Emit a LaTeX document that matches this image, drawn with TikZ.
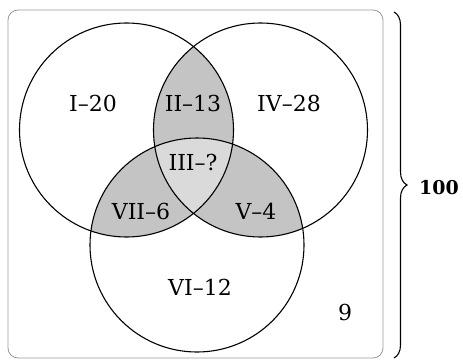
\documentclass[tikz,border=0pt]{standalone}
\usepackage{fontspec}
\setmainfont{DejaVu Serif}
\usetikzlibrary{positioning, decorations.pathreplacing}
\definecolor{pairgray}{RGB}{196,196,196}
\definecolor{triplegray}{RGB}{218,218,218}

\tikzset{
    setcircle/.style={draw, circle, line width=1.1pt, minimum size=214pt, inner sep=0pt},
    regionlabel/.style={font=\fontsize{22}{22}\selectfont, inner sep=1pt},
}

\begin{document}
\begin{tikzpicture}[x=1pt, y=-1pt]
\useasboundingbox (0,0) rectangle (463,361);

% --- shading of the overlaps ---
\begin{scope}
    \clip (126.5,130) circle (107pt);
    \fill [pairgray] (260.5,130) circle (107pt);
    \fill [pairgray] (197,245) circle (107pt);
\end{scope}
\begin{scope}
    \clip (260.5,130) circle (107pt);
    \fill [pairgray] (197,245) circle (107pt);
\end{scope}
\begin{scope}
    \clip (126.5,130) circle (107pt);
    \clip (260.5,130) circle (107pt);
    \fill [triplegray] (197,245) circle (107pt);
\end{scope}

% --- universe ---
\node [
    draw=gray!80,
    line width=0.8pt,
    rectangle,
    rounded corners=10pt,
    minimum width=375pt,
    minimum height=348pt,
] (universe) at (195.5,184) {};

% --- the three sets ---
\node [setcircle] (setleft) at (126.5,130) {};
\node [setcircle] (setright) at (260.5,130) {};
\node [setcircle] (setbottom) at (197,245) {};

% --- region labels ---
\node [regionlabel] (regI) at (93,103) {I–20};
\node [regionlabel] (regII) at (193,103) {II–13};
\node [regionlabel] (regIV) at (289,103) {IV–28};
\node [regionlabel] (regIII) at (193,162) {III–?};
\node [regionlabel] (regVII) at (141,211) {VII–6};
\node [regionlabel] (regV) at (256,211) {V–4};
\node [regionlabel] (regVI) at (200,287) {VI–12};
\node [regionlabel] (regnone) at (345,312) {9};

% --- total ---
\coordinate (bracetop) at (394,12);
\coordinate (bracebot) at (394,358);
\draw [
    decorate,
    decoration={brace, amplitude=13pt},
    line width=1.1pt,
] (bracetop) -- (bracebot);
\node [
    regionlabel,
    anchor=west,
    font=\fontsize{19}{19}\selectfont\bfseries,
] (total) at (418,188) {100};

\end{tikzpicture}
\end{document}
